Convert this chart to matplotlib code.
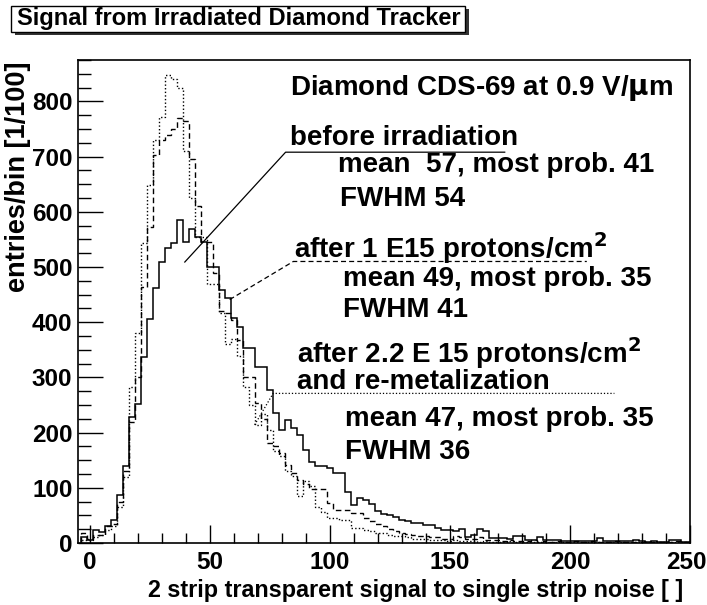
import numpy as np
import matplotlib
matplotlib.use("Agg")
import matplotlib.pyplot as plt
from matplotlib.patches import Rectangle
from matplotlib.transforms import ScaledTranslation

plt.rcParams["font.family"] = ["Liberation Sans", "DejaVu Sans"]
plt.rcParams["font.weight"] = "bold"

# histogram bins: width 2.5, first bin centred at -2.5
bin_width = 2.5
first_edge = -3.75

# before irradiation (solid)
before = [
    10, 5, 23, 20, 30, 42, 87, 140, 229, 252,
    337, 405, 462, 509, 534, 543, 585, 545, 569, 555,
    545, 500, 500, 458, 444, 408, 391, 353, 353, 319,
    319, 277, 235, 205, 223, 208, 196, 168, 147, 140,
    140, 136, 127, 127, 93, 69, 81, 78, 70, 58,
    52, 50, 47, 42, 40, 36, 36, 33, 32, 28,
    24, 23, 22, 25, 11, 14, 25, 22, 9, 9,
    9, 8, 12, 12, 6, 6, 11, 6, 6, 6,
    3, 3, 3, 3, 3, 3, 9, 3, 3, 3,
    3, 3, 6, 3, 2, 3, 2, 2, 6, 6,
    2, 1,
]

# after 1 E15 protons/cm2 (dashed)
after_1e15 = [
    18, 8, 15, 15, 30, 35, 75, 130, 220, 300,
    464, 573, 703, 730, 739, 750, 770, 765, 695, 610,
    545, 545, 490, 420, 416, 404, 368, 301, 301, 253,
    225, 181, 175, 163, 142, 127, 115, 106, 97, 97,
    97, 72, 60, 60, 60, 54, 54, 45, 40, 35,
    30, 25, 22, 18, 16, 14, 12, 12, 10, 10,
    8, 8, 12, 10, 7, 8, 10, 6, 5, 5,
    4, 6, 3, 4, 3, 5, 2, 3, 2, 4,
    2, 2, 3, 1, 2, 3, 2, 2, 1, 3,
    2, 1, 2, 2, 1, 2, 1, 2, 1, 3,
    1, 1,
]

# after 2.2 E15 protons/cm2 and re-metalization (dotted)
after_2e15 = [
    5, 5, 10, 15, 23, 30, 66, 120, 283, 380,
    543, 648, 730, 772, 848, 840, 825, 710, 625, 555,
    555, 470, 470, 416, 360, 370, 338, 283, 250, 214,
    234, 205, 167, 158, 130, 121, 85, 112, 103, 66,
    57, 45, 45, 42, 42, 27, 27, 24, 22, 18,
    18, 15, 12, 12, 10, 8, 8, 7, 6, 5,
    5, 4, 5, 3, 4, 3, 2, 3, 2, 2,
    2, 3, 1, 2, 2, 1, 2, 1, 1, 2,
    1, 1, 2, 1, 1, 1, 2, 1, 1, 1,
    1, 2, 1, 1, 1, 1, 2, 1, 1, 1,
    1, 1,
]

# leader lines from each histogram to its label (data coordinates)
before_leader_x = [39.5, 81.5, 172.8]
before_leader_y = [509, 708, 708]
mid_leader_x = [58.2, 84.7, 207.0]
mid_leader_y = [441, 510, 510]
late_leader_x = [68.6, 76.3, 218.5]
late_leader_y = [214, 271, 271]

W, H = 707, 605
fig = plt.figure(figsize=(W / 100, H / 100), dpi=100)
ax = fig.add_axes([78 / W, 1 - 543 / H, (690 - 78) / W, (543 - 60) / H])

edges = first_edge + bin_width * np.arange(len(before) + 1)
ax.stairs(before, edges, color="black", lw=1.1, ls="-")
ax.stairs(after_1e15, edges, color="black", lw=1.0, ls=(0, (4, 2.5)))
ax.stairs(after_2e15, edges, color="black", lw=1.0, ls=(0, (1, 1.6)))

ax.plot(before_leader_x, before_leader_y, color="black", lw=0.9, ls="-")
ax.plot(mid_leader_x, mid_leader_y, color="black", lw=0.9, ls=(0, (4, 2.5)))
ax.plot(late_leader_x, late_leader_y, color="black", lw=0.9, ls=(0, (1, 1.6)))

ax.set_xlim(-5, 250)
ax.set_ylim(0, 875)
ax.set_xticks(np.arange(0, 251, 50))
ax.set_xticks(np.arange(0, 251, 10), minor=True)
ax.set_yticks(np.arange(0, 801, 100))
ax.set_yticks(np.arange(0, 876, 25), minor=True)
ax.tick_params(which="both", direction="in", labelsize=17.5, width=1.0)
ax.tick_params(axis="x", which="major", length=13, pad=6)
ax.tick_params(axis="x", which="minor", length=7)
ax.tick_params(axis="y", which="major", length=18, pad=4)
ax.tick_params(axis="y", which="minor", length=9)
for lab in ax.get_xticklabels() + ax.get_yticklabels():
    lab.set_fontweight("bold")
# nudge the last x label so it stays inside the canvas
last = ax.get_xticklabels()[-1]
last.set_transform(last.get_transform() + ScaledTranslation(-4 / 100, 0, fig.dpi_scale_trans))
for sp in ax.spines.values():
    sp.set_linewidth(1.2)

ax.set_xlabel("2 strip transparent signal to single strip noise [ ]",
              fontsize=16.8, fontweight="bold", ha="right", va="center")
ax.xaxis.set_label_coords((683 - 78) / 612, (543 - 590) / 483)
ax.set_ylabel("entries/bin [1/100]", fontsize=19.5, fontweight="bold",
              ha="right", va="center")
ax.yaxis.set_label_coords((18 - 78) / 612, (543 - 62) / 483)

txt = dict(fontsize=20, fontweight="bold", ha="left", va="center")
ax.text(83.2, 824, "Diamond CDS-69 at 0.9 V/$\\mathbf{\\mu}$m", **txt)
ax.text(83.2, 733, "before irradiation", **txt)
ax.text(103.2, 685, "mean  57, most prob. 41", **txt)
ax.text(104.0, 623, "FWHM 54", **txt)
ax.text(84.9, 534, "after 1 E15 protons/cm$^\\mathbf{2}$", **txt)
ax.text(105.3, 478, "mean 49, most prob. 35", **txt)
ax.text(105.3, 422, "FWHM 41", **txt)
ax.text(86.1, 345, "after 2.2 E 15 protons/cm$^\\mathbf{2}$", **txt)
ax.text(86.1, 291, "and re-metalization", **txt)
ax.text(106.1, 225, "mean 47, most prob. 35", **txt)
ax.text(106.1, 165, "FWHM 36", **txt)

# title box with drop shadow
bx, by, bw, bh = 11 / W, 1 - 32 / H, (465 - 11) / W, 26 / H
fig.patches.append(Rectangle((bx + 4 / W, by - 3 / H), bw, bh, transform=fig.transFigure,
                             facecolor="#333333", edgecolor="none", zorder=1))
fig.patches.append(Rectangle((bx, by), bw, bh, transform=fig.transFigure,
                             facecolor="white", edgecolor="black", lw=1.0, zorder=2))
fig.text(17 / W, 1 - 19 / H, "Signal from Irradiated Diamond Tracker",
         fontsize=17, fontweight="bold", ha="left", va="center", zorder=3)

fig.savefig("out.png", dpi=100)
